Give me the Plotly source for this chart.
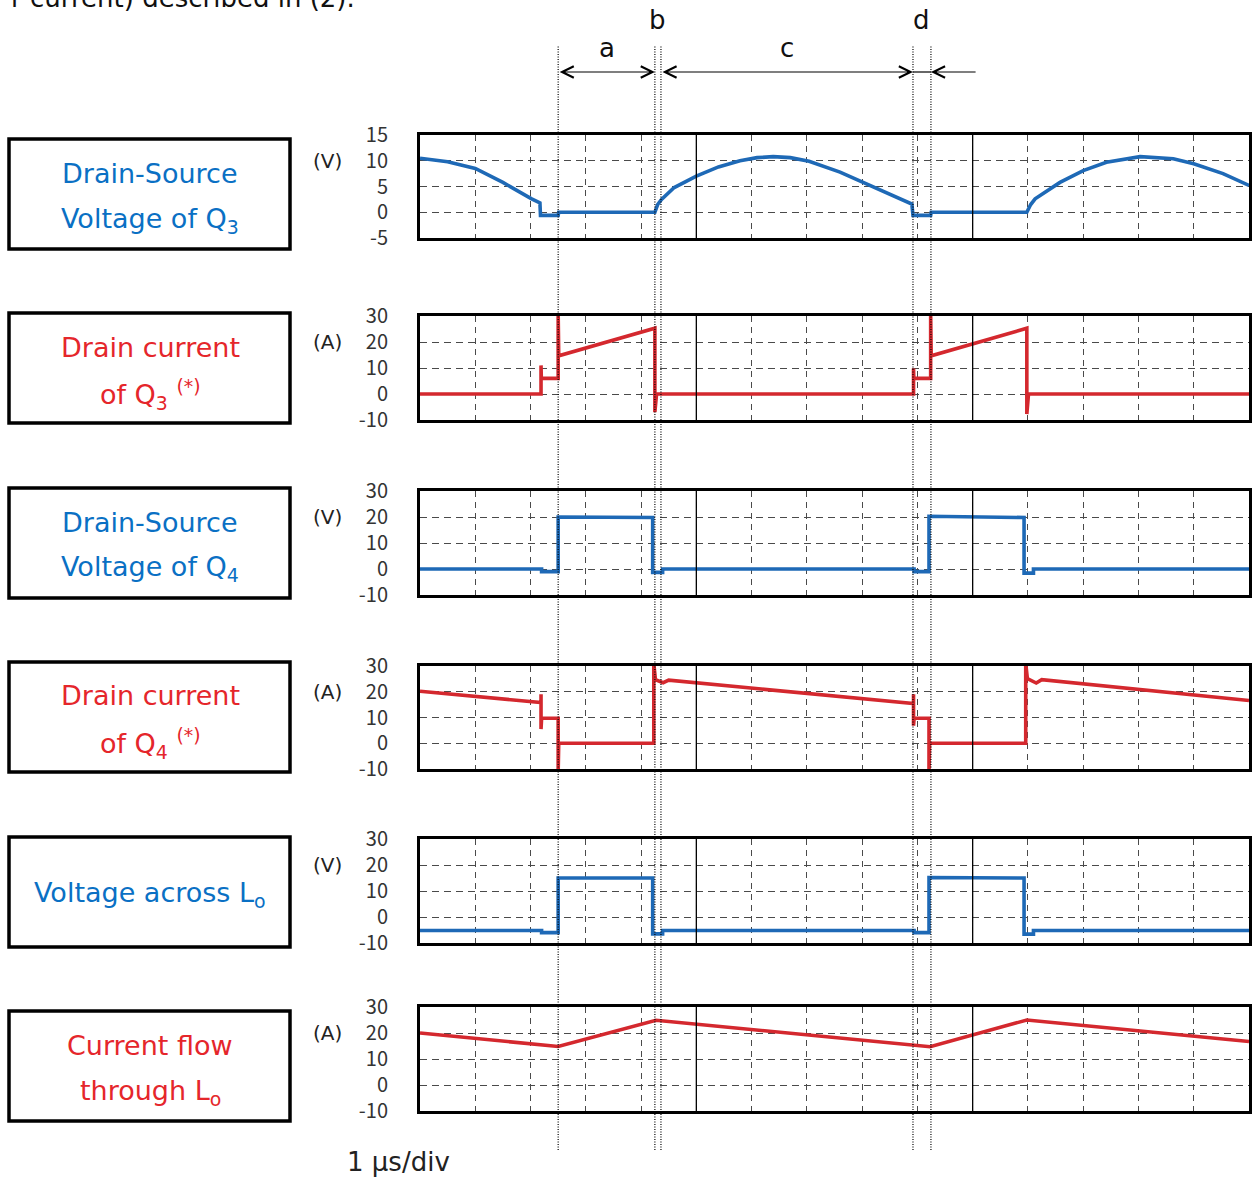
import plotly.graph_objects as go

W, H = 1252, 1179

# ---------------- data (time axis: 1 us per division, 15 divisions) ----------------
t_vds_q3 = [0, 0.5, 1.0, 1.5, 2.02, 2.17, 2.18, 2.5, 2.51, 4.25, 4.3, 4.37, 4.6, 5.0, 5.4,
            5.79, 6.1, 6.39, 6.7, 7.04, 7.6, 8.02, 8.5, 8.9, 8.92, 9.24, 9.25, 10.98, 11.05,
            11.13, 11.58, 12.0, 12.42, 13.03, 13.63, 14.0, 14.53, 15.0]
v_vds_q3 = [10.5, 9.8, 8.5, 5.8, 2.6, 1.8, -0.6, -0.6, 0, 0, 1.5, 2.5, 4.8, 7.0, 8.8,
            10.0, 10.6, 10.8, 10.6, 9.9, 7.8, 5.8, 3.6, 1.6, -0.6, -0.6, 0, 0, 1.5,
            2.6, 5.8, 8.1, 9.7, 10.8, 10.4, 9.4, 7.5, 5.2]

t_id_q3 = [0, 2.19, 2.19, 2.195, 2.5, 2.5, 2.51, 4.25, 4.25, 4.28, 8.93, 8.93, 8.935,
           9.24, 9.24, 9.25, 10.98, 10.98, 11.01, 15.0]
i_id_q3 = [0, 0, 11, 6, 6, 31, 14.7, 25.3, -7, 0, 0, 9.8, 6, 6, 31, 14.7, 25.3, -7.7, 0, 0]

t_vds_q4 = [0, 2.2, 2.2, 2.5, 2.5, 4.21, 4.21, 4.39, 4.39, 8.94, 8.94, 9.21, 9.21,
            10.93, 10.93, 11.1, 11.1, 15.0]
v_vds_q4 = [0, 0, -1, -1, 20, 19.8, -1.3, -1.3, 0, 0, -1, -1, 20.3, 19.8, -1.6, -1.6, 0, 0]

t_id_q4 = [0, 2.19, 2.19, 2.19, 2.2, 2.5, 2.5, 2.51, 4.23, 4.23, 4.26, 4.4, 4.5, 8.93,
           8.93, 8.93, 8.94, 9.21, 9.21, 9.22, 10.96, 10.96, 10.99, 11.15, 11.25, 15.0]
i_id_q4 = [20.2, 15.8, 19, 5.5, 9.7, 9.7, -11, 0, 0, 31, 24.7, 23.5, 24.5, 15.4,
           19, 6.8, 9.7, 9.7, -11, 0, 0, 31, 25.1, 23.4, 24.7, 16.6]

t_v_lo = [0, 2.2, 2.2, 2.5, 2.5, 4.21, 4.21, 4.39, 4.39, 8.94, 8.94, 9.21, 9.21,
          10.93, 10.93, 11.1, 11.1, 15.0]
v_v_lo = [-5.2, -5.2, -6, -6, 15, 15, -6.5, -6.5, -5.2, -5.2, -6, -6, 15.2, 15,
          -6.6, -6.6, -5.2, -5.2]

t_i_lo = [0, 2.5, 4.27, 9.23, 10.98, 15.0]
i_i_lo = [20, 14.8, 24.9, 14.7, 25.0, 16.7]

ticks_p1 = [-5, 0, 5, 10, 15]
ticks_40 = [-10, 0, 10, 20, 30]

marker_t = [2.5, 4.25, 4.36, 8.92, 9.245]
interval_names = ["a", "b", "c", "d"]

box_texts = [
    ["Drain-Source", "Voltage of Q<sub>3</sub>"],
    ["Drain current", "of Q<sub>3</sub> <sup>(*)</sup>"],
    ["Drain-Source", "Voltage of Q<sub>4</sub>"],
    ["Drain current", "of Q<sub>4</sub> <sup>(*)</sup>"],
    ["Voltage across L<sub>o</sub>"],
    ["Current flow", "through L<sub>o</sub>"],
]
units = ["(V)", "(A)", "(V)", "(A)", "(V)", "(A)"]

# ---------------- styling ----------------
BLUE = "#1e69b6"
RED = "#d4282e"
TXT_BLUE = "#0a70c4"
TXT_RED = "#e5262b"
FONT = "DejaVu Sans"
GRID = "#4a4a4a"


def py(px):
    return 1 - px / H


def pxx(px):
    return px / W


series = [
    (t_vds_q3, v_vds_q3, BLUE, [-5, 15], ticks_p1, TXT_BLUE),
    (t_id_q3, i_id_q3, RED, [-10, 30], ticks_40, TXT_RED),
    (t_vds_q4, v_vds_q4, BLUE, [-10, 30], ticks_40, TXT_BLUE),
    (t_id_q4, i_id_q4, RED, [-10, 30], ticks_40, TXT_RED),
    (t_v_lo, v_v_lo, BLUE, [-10, 30], ticks_40, TXT_BLUE),
    (t_i_lo, i_i_lo, RED, [-10, 30], ticks_40, TXT_RED),
]

tops = [135, 316, 491, 666, 839, 1007]
bots = [238, 420, 595, 769, 943, 1111]
box_tops = [139, 313, 488, 662, 837, 1011]
X_L, X_R = 420, 1249

fig = go.Figure()
shapes = []
annotations = []
layout_axes = {}

for i, (t, v, col, yr, tv, tcol) in enumerate(series, start=1):
    sfx = "" if i == 1 else str(i)
    fig.add_trace(go.Scatter(
        x=t, y=v, mode="lines", line=dict(color=col, width=3.6),
        xaxis="x" + sfx, yaxis="y" + sfx, hoverinfo="skip", showlegend=False))
    layout_axes["xaxis" + sfx] = dict(
        domain=[pxx(X_L), pxx(X_R)], range=[0, 15], anchor="y" + sfx,
        tick0=0, dtick=1, showticklabels=False, ticks="", automargin=False,
        showgrid=True, gridcolor=GRID, gridwidth=1, griddash="6px,5px",
        zeroline=False, showline=True, mirror=True, linecolor="black", linewidth=3,
        fixedrange=True)
    layout_axes["yaxis" + sfx] = dict(
        domain=[py(bots[i - 1]), py(tops[i - 1])], range=yr, anchor="x" + sfx,
        tickmode="array", tickvals=tv, ticktext=[str(x) for x in tv],
        ticks="outside", ticklen=25, tickcolor="rgba(0,0,0,0)", automargin=False,
        tickfont=dict(family="Noto Sans CJK JP", size=20, color="#333333"),
        showgrid=True, gridcolor=GRID, gridwidth=1, griddash="7px,5px",
        zeroline=False, showline=True, mirror=True, linecolor="black", linewidth=3,
        fixedrange=True)
    # solid division lines at 5 and 10
    for xv in (5, 10):
        shapes.append(dict(type="line", xref="x" + sfx, yref="y" + sfx + " domain",
                           x0=xv, x1=xv, y0=0, y1=1,
                           line=dict(color="black", width=1.3)))
    # label box
    bt = box_tops[i - 1]
    shapes.append(dict(type="rect", xref="paper", yref="paper",
                       x0=pxx(9), x1=pxx(290), y0=py(bt + 110), y1=py(bt),
                       line=dict(color="black", width=3.5), fillcolor="rgba(0,0,0,0)"))
    lines = box_texts[i - 1]
    offs = [57] if len(lines) == 1 else [34, 81]
    for txt, off in zip(lines, offs):
        annotations.append(dict(text=txt, xref="paper", yref="paper",
                                x=pxx(150), y=py(bt + off), xanchor="center", yanchor="middle",
                                showarrow=False, font=dict(family=FONT, size=27, color=tcol)))
    # unit label
    annotations.append(dict(text=units[i - 1], xref="paper", yref="paper",
                            x=pxx(327), y=py(tops[i - 1] + 26), xanchor="center",
                            yanchor="middle", showarrow=False,
                            font=dict(family=FONT, size=20, color="#222222")))

# dotted timing markers spanning all panels
for mt in marker_t:
    shapes.append(dict(type="line", xref="x", yref="paper", x0=mt, x1=mt,
                       y0=py(1150), y1=py(45),
                       line=dict(color="black", width=1.2, dash="1px,1.5px")))

# interval arrows
ARROW_Y = py(72)
arrow_kw = dict(xref="x", yref="paper", axref="x", ayref="pixel", ay=0, text="",
                showarrow=True, arrowcolor="black", arrowwidth=1.2, arrowsize=1.9,
                arrowhead=5, startarrowhead=5, startarrowsize=1.9)
annotations.append(dict(x=marker_t[1], y=ARROW_Y, ax=marker_t[0],
                        arrowside="end+start", **arrow_kw))
annotations.append(dict(x=marker_t[3], y=ARROW_Y, ax=marker_t[2],
                        arrowside="end+start", **arrow_kw))
annotations.append(dict(x=marker_t[4], y=ARROW_Y, ax=10.08,
                        arrowside="end", **arrow_kw))
shapes.append(dict(type="line", xref="x", yref="paper", x0=marker_t[3], x1=marker_t[4],
                   y0=ARROW_Y, y1=ARROW_Y, line=dict(color="black", width=1.2)))

# interval letters
letter_y = [48, 20, 48, 20]
for k, name in enumerate(interval_names):
    xm = (marker_t[k] + marker_t[k + 1]) / 2
    annotations.append(dict(text=name, xref="x", yref="paper", x=xm, y=py(letter_y[k]),
                            xanchor="center", yanchor="middle", showarrow=False,
                            font=dict(family=FONT, size=26, color="#111111")))

# time base label
annotations.append(dict(text="1 μs/div", xref="paper", yref="paper", x=pxx(398), y=py(1162),
                        xanchor="center", yanchor="middle", showarrow=False,
                        font=dict(family=FONT, size=26, color="#222222")))

# clipped text from the page above
annotations.append(dict(text="r current) described in (2).", xref="paper", yref="paper",
                        x=pxx(357), y=py(15), xanchor="right", yanchor="bottom",
                        showarrow=False, font=dict(family=FONT, size=26, color="#111111")))

fig.update_layout(
    template="none",
    width=W, height=H, margin=dict(l=0, r=0, t=0, b=0, pad=0, autoexpand=False),
    paper_bgcolor="white", plot_bgcolor="white",
    showlegend=False, shapes=shapes, annotations=annotations, **layout_axes)

fig.write_html("out.html", config={"displayModeBar": False})
